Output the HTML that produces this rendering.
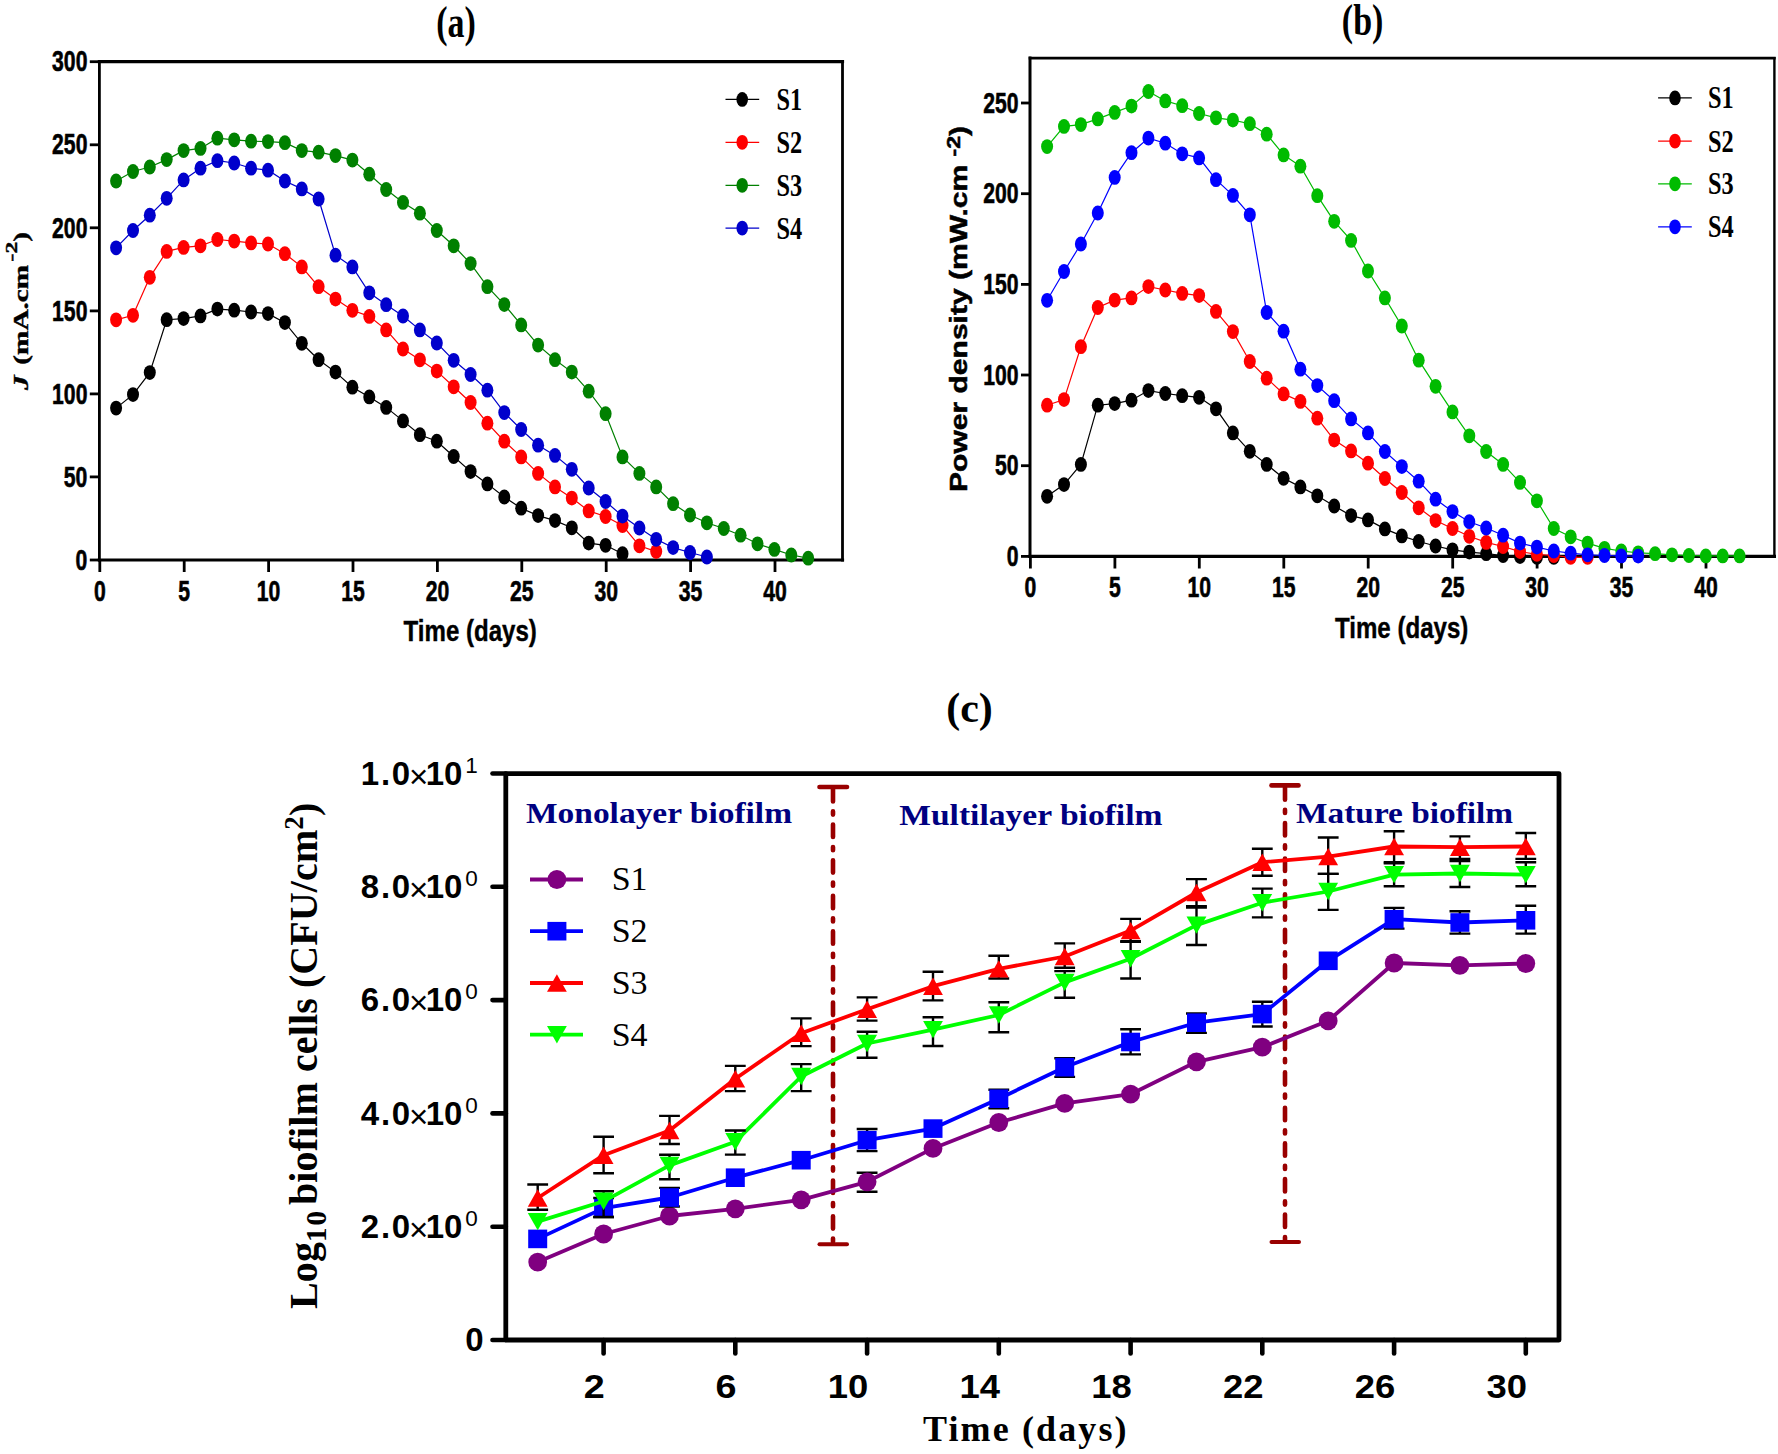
<!DOCTYPE html>
<html lang="en"><head><meta charset="utf-8"><title>Figure</title>
<style>html,body{margin:0;padding:0;background:#fff}svg{display:block}</style>
</head><body>
<svg width="1778" height="1454" viewBox="0 0 1778 1454">
<rect width="1778" height="1454" fill="#ffffff"/>
<g id="panelA">
<g stroke="#000" fill="none" stroke-linecap="square">
<line x1="99.4" y1="61.7" x2="842.5" y2="61.7" stroke-width="3.2"/>
<line x1="99.4" y1="560.0" x2="842.5" y2="560.0" stroke-width="3.2"/>
<line x1="99.4" y1="61.7" x2="99.4" y2="560.0" stroke-width="2.8"/>
<line x1="842.5" y1="61.7" x2="842.5" y2="560.0" stroke-width="2.8"/>
</g>
<g stroke="#000" stroke-width="2.8">
<line x1="89.8" y1="560.0" x2="99.4" y2="560.0"/>
<line x1="89.8" y1="476.9" x2="99.4" y2="476.9"/>
<line x1="89.8" y1="393.9" x2="99.4" y2="393.9"/>
<line x1="89.8" y1="310.9" x2="99.4" y2="310.9"/>
<line x1="89.8" y1="227.8" x2="99.4" y2="227.8"/>
<line x1="89.8" y1="144.8" x2="99.4" y2="144.8"/>
<line x1="89.8" y1="61.7" x2="99.4" y2="61.7"/>
<line x1="99.8" y1="560.0" x2="99.8" y2="572"/>
<line x1="184.2" y1="560.0" x2="184.2" y2="572"/>
<line x1="268.6" y1="560.0" x2="268.6" y2="572"/>
<line x1="353.0" y1="560.0" x2="353.0" y2="572"/>
<line x1="437.4" y1="560.0" x2="437.4" y2="572"/>
<line x1="521.8" y1="560.0" x2="521.8" y2="572"/>
<line x1="606.2" y1="560.0" x2="606.2" y2="572"/>
<line x1="690.6" y1="560.0" x2="690.6" y2="572"/>
<line x1="775.0" y1="560.0" x2="775.0" y2="572"/>
</g>
<text transform="translate(87.4,569.7) scale(0.73,1)" font-family='"Liberation Sans", Arial, sans-serif' font-size="29" font-weight="bold" text-anchor="end" fill="#000" stroke="#000" stroke-width="0.6">0</text>
<text transform="translate(87.4,486.6) scale(0.73,1)" font-family='"Liberation Sans", Arial, sans-serif' font-size="29" font-weight="bold" text-anchor="end" fill="#000" stroke="#000" stroke-width="0.6">50</text>
<text transform="translate(87.4,403.6) scale(0.73,1)" font-family='"Liberation Sans", Arial, sans-serif' font-size="29" font-weight="bold" text-anchor="end" fill="#000" stroke="#000" stroke-width="0.6">100</text>
<text transform="translate(87.4,320.6) scale(0.73,1)" font-family='"Liberation Sans", Arial, sans-serif' font-size="29" font-weight="bold" text-anchor="end" fill="#000" stroke="#000" stroke-width="0.6">150</text>
<text transform="translate(87.4,237.5) scale(0.73,1)" font-family='"Liberation Sans", Arial, sans-serif' font-size="29" font-weight="bold" text-anchor="end" fill="#000" stroke="#000" stroke-width="0.6">200</text>
<text transform="translate(87.4,154.4) scale(0.73,1)" font-family='"Liberation Sans", Arial, sans-serif' font-size="29" font-weight="bold" text-anchor="end" fill="#000" stroke="#000" stroke-width="0.6">250</text>
<text transform="translate(87.4,71.4) scale(0.73,1)" font-family='"Liberation Sans", Arial, sans-serif' font-size="29" font-weight="bold" text-anchor="end" fill="#000" stroke="#000" stroke-width="0.6">300</text>
<text transform="translate(99.8,600.7) scale(0.73,1)" font-family='"Liberation Sans", Arial, sans-serif' font-size="29" font-weight="bold" text-anchor="middle" fill="#000" stroke="#000" stroke-width="0.6">0</text>
<text transform="translate(184.2,600.7) scale(0.73,1)" font-family='"Liberation Sans", Arial, sans-serif' font-size="29" font-weight="bold" text-anchor="middle" fill="#000" stroke="#000" stroke-width="0.6">5</text>
<text transform="translate(268.6,600.7) scale(0.73,1)" font-family='"Liberation Sans", Arial, sans-serif' font-size="29" font-weight="bold" text-anchor="middle" fill="#000" stroke="#000" stroke-width="0.6">10</text>
<text transform="translate(353.0,600.7) scale(0.73,1)" font-family='"Liberation Sans", Arial, sans-serif' font-size="29" font-weight="bold" text-anchor="middle" fill="#000" stroke="#000" stroke-width="0.6">15</text>
<text transform="translate(437.4,600.7) scale(0.73,1)" font-family='"Liberation Sans", Arial, sans-serif' font-size="29" font-weight="bold" text-anchor="middle" fill="#000" stroke="#000" stroke-width="0.6">20</text>
<text transform="translate(521.8,600.7) scale(0.73,1)" font-family='"Liberation Sans", Arial, sans-serif' font-size="29" font-weight="bold" text-anchor="middle" fill="#000" stroke="#000" stroke-width="0.6">25</text>
<text transform="translate(606.2,600.7) scale(0.73,1)" font-family='"Liberation Sans", Arial, sans-serif' font-size="29" font-weight="bold" text-anchor="middle" fill="#000" stroke="#000" stroke-width="0.6">30</text>
<text transform="translate(690.6,600.7) scale(0.73,1)" font-family='"Liberation Sans", Arial, sans-serif' font-size="29" font-weight="bold" text-anchor="middle" fill="#000" stroke="#000" stroke-width="0.6">35</text>
<text transform="translate(775.0,600.7) scale(0.73,1)" font-family='"Liberation Sans", Arial, sans-serif' font-size="29" font-weight="bold" text-anchor="middle" fill="#000" stroke="#000" stroke-width="0.6">40</text>
<text x="403.6" y="640.7" font-family='"Liberation Sans", Arial, sans-serif' font-size="29" font-weight="bold" stroke="#000" stroke-width="0.4" textLength="133.3" lengthAdjust="spacingAndGlyphs">Time (days)</text>
<text transform="translate(28,390) rotate(-90)" font-family='"Liberation Serif", "Times New Roman", serif' font-size="21" font-weight="bold" stroke="#000" stroke-width="0.4" textLength="158" lengthAdjust="spacingAndGlyphs"><tspan font-style="italic">J</tspan><tspan dx="2.5"> (mA.cm</tspan><tspan font-size="17" dy="-11" dx="2.5">-2</tspan><tspan dy="11">)</tspan></text>
<text transform="translate(455.9,36.6) scale(0.78,1)" font-family='"Liberation Serif", "Times New Roman", serif' font-size="43.5" font-weight="bold" text-anchor="middle" fill="#000" >(a)</text>
<polyline points="116.1,408.1 133.0,394.6 149.8,372.6 166.7,319.7 183.6,318.6 200.5,315.9 217.4,309.1 234.2,310.2 251.1,312.0 268.0,313.6 284.9,322.6 301.8,343.3 318.6,359.7 335.5,372.1 352.4,387.2 369.3,396.9 386.2,407.4 403.0,420.9 419.9,434.7 436.8,441.2 453.7,456.5 470.6,471.6 487.4,483.9 504.3,497.0 521.2,508.2 538.1,515.6 555.0,520.6 571.8,527.8 588.7,543.1 605.6,545.3 622.5,553.7" fill="none" stroke="#000000" stroke-width="1.2"/>
<g fill="#000000">
<ellipse cx="116.1" cy="408.1" rx="6.0" ry="7.4"/>
<ellipse cx="133.0" cy="394.6" rx="6.0" ry="7.4"/>
<ellipse cx="149.8" cy="372.6" rx="6.0" ry="7.4"/>
<ellipse cx="166.7" cy="319.7" rx="6.0" ry="7.4"/>
<ellipse cx="183.6" cy="318.6" rx="6.0" ry="7.4"/>
<ellipse cx="200.5" cy="315.9" rx="6.0" ry="7.4"/>
<ellipse cx="217.4" cy="309.1" rx="6.0" ry="7.4"/>
<ellipse cx="234.2" cy="310.2" rx="6.0" ry="7.4"/>
<ellipse cx="251.1" cy="312.0" rx="6.0" ry="7.4"/>
<ellipse cx="268.0" cy="313.6" rx="6.0" ry="7.4"/>
<ellipse cx="284.9" cy="322.6" rx="6.0" ry="7.4"/>
<ellipse cx="301.8" cy="343.3" rx="6.0" ry="7.4"/>
<ellipse cx="318.6" cy="359.7" rx="6.0" ry="7.4"/>
<ellipse cx="335.5" cy="372.1" rx="6.0" ry="7.4"/>
<ellipse cx="352.4" cy="387.2" rx="6.0" ry="7.4"/>
<ellipse cx="369.3" cy="396.9" rx="6.0" ry="7.4"/>
<ellipse cx="386.2" cy="407.4" rx="6.0" ry="7.4"/>
<ellipse cx="403.0" cy="420.9" rx="6.0" ry="7.4"/>
<ellipse cx="419.9" cy="434.7" rx="6.0" ry="7.4"/>
<ellipse cx="436.8" cy="441.2" rx="6.0" ry="7.4"/>
<ellipse cx="453.7" cy="456.5" rx="6.0" ry="7.4"/>
<ellipse cx="470.6" cy="471.6" rx="6.0" ry="7.4"/>
<ellipse cx="487.4" cy="483.9" rx="6.0" ry="7.4"/>
<ellipse cx="504.3" cy="497.0" rx="6.0" ry="7.4"/>
<ellipse cx="521.2" cy="508.2" rx="6.0" ry="7.4"/>
<ellipse cx="538.1" cy="515.6" rx="6.0" ry="7.4"/>
<ellipse cx="555.0" cy="520.6" rx="6.0" ry="7.4"/>
<ellipse cx="571.8" cy="527.8" rx="6.0" ry="7.4"/>
<ellipse cx="588.7" cy="543.1" rx="6.0" ry="7.4"/>
<ellipse cx="605.6" cy="545.3" rx="6.0" ry="7.4"/>
<ellipse cx="622.5" cy="553.7" rx="6.0" ry="7.4"/>
</g>
<polyline points="116.1,319.8 133.0,315.3 149.8,277.3 166.7,251.4 183.6,247.4 200.5,245.8 217.4,239.5 234.2,241.1 251.1,242.9 268.0,244.0 284.9,253.7 301.8,266.9 318.6,286.7 335.5,299.1 352.4,310.3 369.3,316.4 386.2,329.9 403.0,349.0 419.9,359.8 436.8,371.1 453.7,386.8 470.6,402.5 487.4,423.2 504.3,441.2 521.2,456.9 538.1,473.4 555.0,486.9 571.8,498.1 588.7,510.9 605.6,516.5 622.5,525.5 639.4,545.8 656.2,551.6" fill="none" stroke="#ff0000" stroke-width="1.2"/>
<g fill="#ff0000">
<ellipse cx="116.1" cy="319.8" rx="6.0" ry="7.4"/>
<ellipse cx="133.0" cy="315.3" rx="6.0" ry="7.4"/>
<ellipse cx="149.8" cy="277.3" rx="6.0" ry="7.4"/>
<ellipse cx="166.7" cy="251.4" rx="6.0" ry="7.4"/>
<ellipse cx="183.6" cy="247.4" rx="6.0" ry="7.4"/>
<ellipse cx="200.5" cy="245.8" rx="6.0" ry="7.4"/>
<ellipse cx="217.4" cy="239.5" rx="6.0" ry="7.4"/>
<ellipse cx="234.2" cy="241.1" rx="6.0" ry="7.4"/>
<ellipse cx="251.1" cy="242.9" rx="6.0" ry="7.4"/>
<ellipse cx="268.0" cy="244.0" rx="6.0" ry="7.4"/>
<ellipse cx="284.9" cy="253.7" rx="6.0" ry="7.4"/>
<ellipse cx="301.8" cy="266.9" rx="6.0" ry="7.4"/>
<ellipse cx="318.6" cy="286.7" rx="6.0" ry="7.4"/>
<ellipse cx="335.5" cy="299.1" rx="6.0" ry="7.4"/>
<ellipse cx="352.4" cy="310.3" rx="6.0" ry="7.4"/>
<ellipse cx="369.3" cy="316.4" rx="6.0" ry="7.4"/>
<ellipse cx="386.2" cy="329.9" rx="6.0" ry="7.4"/>
<ellipse cx="403.0" cy="349.0" rx="6.0" ry="7.4"/>
<ellipse cx="419.9" cy="359.8" rx="6.0" ry="7.4"/>
<ellipse cx="436.8" cy="371.1" rx="6.0" ry="7.4"/>
<ellipse cx="453.7" cy="386.8" rx="6.0" ry="7.4"/>
<ellipse cx="470.6" cy="402.5" rx="6.0" ry="7.4"/>
<ellipse cx="487.4" cy="423.2" rx="6.0" ry="7.4"/>
<ellipse cx="504.3" cy="441.2" rx="6.0" ry="7.4"/>
<ellipse cx="521.2" cy="456.9" rx="6.0" ry="7.4"/>
<ellipse cx="538.1" cy="473.4" rx="6.0" ry="7.4"/>
<ellipse cx="555.0" cy="486.9" rx="6.0" ry="7.4"/>
<ellipse cx="571.8" cy="498.1" rx="6.0" ry="7.4"/>
<ellipse cx="588.7" cy="510.9" rx="6.0" ry="7.4"/>
<ellipse cx="605.6" cy="516.5" rx="6.0" ry="7.4"/>
<ellipse cx="622.5" cy="525.5" rx="6.0" ry="7.4"/>
<ellipse cx="639.4" cy="545.8" rx="6.0" ry="7.4"/>
<ellipse cx="656.2" cy="551.6" rx="6.0" ry="7.4"/>
</g>
<polyline points="116.1,181.0 133.0,171.5 149.8,167.0 166.7,159.6 183.6,150.6 200.5,148.4 217.4,138.2 234.2,139.8 251.1,141.2 268.0,141.6 284.9,142.7 301.8,150.6 318.6,152.2 335.5,155.6 352.4,160.1 369.3,174.2 386.2,189.5 403.0,202.4 419.9,213.2 436.8,230.5 453.7,245.8 470.6,263.6 487.4,286.7 504.3,304.6 521.2,324.9 538.1,345.1 555.0,359.7 571.8,372.1 588.7,391.2 605.6,413.7 622.5,456.9 639.4,473.4 656.2,486.9 673.1,503.7 690.0,515.0 706.9,522.8 723.8,528.5 740.6,535.2 757.5,543.8 774.4,549.4 791.3,555.0 808.2,558.2" fill="none" stroke="#008000" stroke-width="1.2"/>
<g fill="#008000">
<ellipse cx="116.1" cy="181.0" rx="6.0" ry="7.4"/>
<ellipse cx="133.0" cy="171.5" rx="6.0" ry="7.4"/>
<ellipse cx="149.8" cy="167.0" rx="6.0" ry="7.4"/>
<ellipse cx="166.7" cy="159.6" rx="6.0" ry="7.4"/>
<ellipse cx="183.6" cy="150.6" rx="6.0" ry="7.4"/>
<ellipse cx="200.5" cy="148.4" rx="6.0" ry="7.4"/>
<ellipse cx="217.4" cy="138.2" rx="6.0" ry="7.4"/>
<ellipse cx="234.2" cy="139.8" rx="6.0" ry="7.4"/>
<ellipse cx="251.1" cy="141.2" rx="6.0" ry="7.4"/>
<ellipse cx="268.0" cy="141.6" rx="6.0" ry="7.4"/>
<ellipse cx="284.9" cy="142.7" rx="6.0" ry="7.4"/>
<ellipse cx="301.8" cy="150.6" rx="6.0" ry="7.4"/>
<ellipse cx="318.6" cy="152.2" rx="6.0" ry="7.4"/>
<ellipse cx="335.5" cy="155.6" rx="6.0" ry="7.4"/>
<ellipse cx="352.4" cy="160.1" rx="6.0" ry="7.4"/>
<ellipse cx="369.3" cy="174.2" rx="6.0" ry="7.4"/>
<ellipse cx="386.2" cy="189.5" rx="6.0" ry="7.4"/>
<ellipse cx="403.0" cy="202.4" rx="6.0" ry="7.4"/>
<ellipse cx="419.9" cy="213.2" rx="6.0" ry="7.4"/>
<ellipse cx="436.8" cy="230.5" rx="6.0" ry="7.4"/>
<ellipse cx="453.7" cy="245.8" rx="6.0" ry="7.4"/>
<ellipse cx="470.6" cy="263.6" rx="6.0" ry="7.4"/>
<ellipse cx="487.4" cy="286.7" rx="6.0" ry="7.4"/>
<ellipse cx="504.3" cy="304.6" rx="6.0" ry="7.4"/>
<ellipse cx="521.2" cy="324.9" rx="6.0" ry="7.4"/>
<ellipse cx="538.1" cy="345.1" rx="6.0" ry="7.4"/>
<ellipse cx="555.0" cy="359.7" rx="6.0" ry="7.4"/>
<ellipse cx="571.8" cy="372.1" rx="6.0" ry="7.4"/>
<ellipse cx="588.7" cy="391.2" rx="6.0" ry="7.4"/>
<ellipse cx="605.6" cy="413.7" rx="6.0" ry="7.4"/>
<ellipse cx="622.5" cy="456.9" rx="6.0" ry="7.4"/>
<ellipse cx="639.4" cy="473.4" rx="6.0" ry="7.4"/>
<ellipse cx="656.2" cy="486.9" rx="6.0" ry="7.4"/>
<ellipse cx="673.1" cy="503.7" rx="6.0" ry="7.4"/>
<ellipse cx="690.0" cy="515.0" rx="6.0" ry="7.4"/>
<ellipse cx="706.9" cy="522.8" rx="6.0" ry="7.4"/>
<ellipse cx="723.8" cy="528.5" rx="6.0" ry="7.4"/>
<ellipse cx="740.6" cy="535.2" rx="6.0" ry="7.4"/>
<ellipse cx="757.5" cy="543.8" rx="6.0" ry="7.4"/>
<ellipse cx="774.4" cy="549.4" rx="6.0" ry="7.4"/>
<ellipse cx="791.3" cy="555.0" rx="6.0" ry="7.4"/>
<ellipse cx="808.2" cy="558.2" rx="6.0" ry="7.4"/>
</g>
<polyline points="116.1,247.8 133.0,230.5 149.8,215.2 166.7,198.3 183.6,179.9 200.5,168.2 217.4,160.7 234.2,163.0 251.1,168.2 268.0,170.2 284.9,181.0 301.8,188.9 318.6,199.0 335.5,255.2 352.4,266.9 369.3,292.8 386.2,304.7 403.0,316.0 419.9,329.9 436.8,343.0 453.7,360.3 470.6,374.5 487.4,390.2 504.3,412.6 521.2,429.5 538.1,445.2 555.0,455.4 571.8,469.3 588.7,488.0 605.6,501.5 622.5,516.1 639.4,528.0 656.2,539.3 673.1,547.6 690.0,552.5 706.9,557.0" fill="none" stroke="#0000cc" stroke-width="1.2"/>
<g fill="#0000cc">
<ellipse cx="116.1" cy="247.8" rx="6.0" ry="7.4"/>
<ellipse cx="133.0" cy="230.5" rx="6.0" ry="7.4"/>
<ellipse cx="149.8" cy="215.2" rx="6.0" ry="7.4"/>
<ellipse cx="166.7" cy="198.3" rx="6.0" ry="7.4"/>
<ellipse cx="183.6" cy="179.9" rx="6.0" ry="7.4"/>
<ellipse cx="200.5" cy="168.2" rx="6.0" ry="7.4"/>
<ellipse cx="217.4" cy="160.7" rx="6.0" ry="7.4"/>
<ellipse cx="234.2" cy="163.0" rx="6.0" ry="7.4"/>
<ellipse cx="251.1" cy="168.2" rx="6.0" ry="7.4"/>
<ellipse cx="268.0" cy="170.2" rx="6.0" ry="7.4"/>
<ellipse cx="284.9" cy="181.0" rx="6.0" ry="7.4"/>
<ellipse cx="301.8" cy="188.9" rx="6.0" ry="7.4"/>
<ellipse cx="318.6" cy="199.0" rx="6.0" ry="7.4"/>
<ellipse cx="335.5" cy="255.2" rx="6.0" ry="7.4"/>
<ellipse cx="352.4" cy="266.9" rx="6.0" ry="7.4"/>
<ellipse cx="369.3" cy="292.8" rx="6.0" ry="7.4"/>
<ellipse cx="386.2" cy="304.7" rx="6.0" ry="7.4"/>
<ellipse cx="403.0" cy="316.0" rx="6.0" ry="7.4"/>
<ellipse cx="419.9" cy="329.9" rx="6.0" ry="7.4"/>
<ellipse cx="436.8" cy="343.0" rx="6.0" ry="7.4"/>
<ellipse cx="453.7" cy="360.3" rx="6.0" ry="7.4"/>
<ellipse cx="470.6" cy="374.5" rx="6.0" ry="7.4"/>
<ellipse cx="487.4" cy="390.2" rx="6.0" ry="7.4"/>
<ellipse cx="504.3" cy="412.6" rx="6.0" ry="7.4"/>
<ellipse cx="521.2" cy="429.5" rx="6.0" ry="7.4"/>
<ellipse cx="538.1" cy="445.2" rx="6.0" ry="7.4"/>
<ellipse cx="555.0" cy="455.4" rx="6.0" ry="7.4"/>
<ellipse cx="571.8" cy="469.3" rx="6.0" ry="7.4"/>
<ellipse cx="588.7" cy="488.0" rx="6.0" ry="7.4"/>
<ellipse cx="605.6" cy="501.5" rx="6.0" ry="7.4"/>
<ellipse cx="622.5" cy="516.1" rx="6.0" ry="7.4"/>
<ellipse cx="639.4" cy="528.0" rx="6.0" ry="7.4"/>
<ellipse cx="656.2" cy="539.3" rx="6.0" ry="7.4"/>
<ellipse cx="673.1" cy="547.6" rx="6.0" ry="7.4"/>
<ellipse cx="690.0" cy="552.5" rx="6.0" ry="7.4"/>
<ellipse cx="706.9" cy="557.0" rx="6.0" ry="7.4"/>
</g>
<line x1="725.5" y1="99.4" x2="759.2" y2="99.4" stroke="#000000" stroke-width="1.35"/>
<ellipse cx="742.2" cy="99.4" rx="5.8" ry="7.4" fill="#000000"/>
<text transform="translate(776.6,109.9) scale(0.76,1)" font-family='"Liberation Serif", "Times New Roman", serif' font-size="32" font-weight="bold" text-anchor="start" fill="#000" >S1</text>
<line x1="725.5" y1="142.3" x2="759.2" y2="142.3" stroke="#ff0000" stroke-width="1.35"/>
<ellipse cx="742.2" cy="142.3" rx="5.8" ry="7.4" fill="#ff0000"/>
<text transform="translate(776.6,152.8) scale(0.76,1)" font-family='"Liberation Serif", "Times New Roman", serif' font-size="32" font-weight="bold" text-anchor="start" fill="#000" >S2</text>
<line x1="725.5" y1="185.3" x2="759.2" y2="185.3" stroke="#008000" stroke-width="1.35"/>
<ellipse cx="742.2" cy="185.3" rx="5.8" ry="7.4" fill="#008000"/>
<text transform="translate(776.6,195.8) scale(0.76,1)" font-family='"Liberation Serif", "Times New Roman", serif' font-size="32" font-weight="bold" text-anchor="start" fill="#000" >S3</text>
<line x1="725.5" y1="228.1" x2="759.2" y2="228.1" stroke="#0000cc" stroke-width="1.35"/>
<ellipse cx="742.2" cy="228.1" rx="5.8" ry="7.4" fill="#0000cc"/>
<text transform="translate(776.6,238.6) scale(0.76,1)" font-family='"Liberation Serif", "Times New Roman", serif' font-size="32" font-weight="bold" text-anchor="start" fill="#000" >S4</text>
</g>
<g id="panelB">
<g stroke="#000" fill="none" stroke-linecap="square">
<line x1="1030.0" y1="58.1" x2="1774.4" y2="58.1" stroke-width="2.6"/>
<line x1="1030.0" y1="556.4" x2="1774.4" y2="556.4" stroke-width="3.2"/>
<line x1="1030.0" y1="58.1" x2="1030.0" y2="556.4" stroke-width="3.0"/>
<line x1="1774.4" y1="58.1" x2="1774.4" y2="556.4" stroke-width="2.4"/>
</g>
<g stroke="#000" stroke-width="2.8">
<line x1="1021" y1="556.4" x2="1030.0" y2="556.4"/>
<line x1="1021" y1="465.7" x2="1030.0" y2="465.7"/>
<line x1="1021" y1="375.0" x2="1030.0" y2="375.0"/>
<line x1="1021" y1="284.4" x2="1030.0" y2="284.4"/>
<line x1="1021" y1="193.7" x2="1030.0" y2="193.7"/>
<line x1="1021" y1="103.0" x2="1030.0" y2="103.0"/>
<line x1="1030.4" y1="556.4" x2="1030.4" y2="568.5"/>
<line x1="1114.9" y1="556.4" x2="1114.9" y2="568.5"/>
<line x1="1199.3" y1="556.4" x2="1199.3" y2="568.5"/>
<line x1="1283.8" y1="556.4" x2="1283.8" y2="568.5"/>
<line x1="1368.2" y1="556.4" x2="1368.2" y2="568.5"/>
<line x1="1452.7" y1="556.4" x2="1452.7" y2="568.5"/>
<line x1="1537.1" y1="556.4" x2="1537.1" y2="568.5"/>
<line x1="1621.5" y1="556.4" x2="1621.5" y2="568.5"/>
<line x1="1706.0" y1="556.4" x2="1706.0" y2="568.5"/>
</g>
<text transform="translate(1018.5,566.1) scale(0.73,1)" font-family='"Liberation Sans", Arial, sans-serif' font-size="29" font-weight="bold" text-anchor="end" fill="#000" stroke="#000" stroke-width="0.6">0</text>
<text transform="translate(1018.5,475.4) scale(0.73,1)" font-family='"Liberation Sans", Arial, sans-serif' font-size="29" font-weight="bold" text-anchor="end" fill="#000" stroke="#000" stroke-width="0.6">50</text>
<text transform="translate(1018.5,384.7) scale(0.73,1)" font-family='"Liberation Sans", Arial, sans-serif' font-size="29" font-weight="bold" text-anchor="end" fill="#000" stroke="#000" stroke-width="0.6">100</text>
<text transform="translate(1018.5,294.1) scale(0.73,1)" font-family='"Liberation Sans", Arial, sans-serif' font-size="29" font-weight="bold" text-anchor="end" fill="#000" stroke="#000" stroke-width="0.6">150</text>
<text transform="translate(1018.5,203.4) scale(0.73,1)" font-family='"Liberation Sans", Arial, sans-serif' font-size="29" font-weight="bold" text-anchor="end" fill="#000" stroke="#000" stroke-width="0.6">200</text>
<text transform="translate(1018.5,112.7) scale(0.73,1)" font-family='"Liberation Sans", Arial, sans-serif' font-size="29" font-weight="bold" text-anchor="end" fill="#000" stroke="#000" stroke-width="0.6">250</text>
<text transform="translate(1030.4,597) scale(0.73,1)" font-family='"Liberation Sans", Arial, sans-serif' font-size="29" font-weight="bold" text-anchor="middle" fill="#000" stroke="#000" stroke-width="0.6">0</text>
<text transform="translate(1114.9,597) scale(0.73,1)" font-family='"Liberation Sans", Arial, sans-serif' font-size="29" font-weight="bold" text-anchor="middle" fill="#000" stroke="#000" stroke-width="0.6">5</text>
<text transform="translate(1199.3,597) scale(0.73,1)" font-family='"Liberation Sans", Arial, sans-serif' font-size="29" font-weight="bold" text-anchor="middle" fill="#000" stroke="#000" stroke-width="0.6">10</text>
<text transform="translate(1283.8,597) scale(0.73,1)" font-family='"Liberation Sans", Arial, sans-serif' font-size="29" font-weight="bold" text-anchor="middle" fill="#000" stroke="#000" stroke-width="0.6">15</text>
<text transform="translate(1368.2,597) scale(0.73,1)" font-family='"Liberation Sans", Arial, sans-serif' font-size="29" font-weight="bold" text-anchor="middle" fill="#000" stroke="#000" stroke-width="0.6">20</text>
<text transform="translate(1452.7,597) scale(0.73,1)" font-family='"Liberation Sans", Arial, sans-serif' font-size="29" font-weight="bold" text-anchor="middle" fill="#000" stroke="#000" stroke-width="0.6">25</text>
<text transform="translate(1537.1,597) scale(0.73,1)" font-family='"Liberation Sans", Arial, sans-serif' font-size="29" font-weight="bold" text-anchor="middle" fill="#000" stroke="#000" stroke-width="0.6">30</text>
<text transform="translate(1621.5,597) scale(0.73,1)" font-family='"Liberation Sans", Arial, sans-serif' font-size="29" font-weight="bold" text-anchor="middle" fill="#000" stroke="#000" stroke-width="0.6">35</text>
<text transform="translate(1706.0,597) scale(0.73,1)" font-family='"Liberation Sans", Arial, sans-serif' font-size="29" font-weight="bold" text-anchor="middle" fill="#000" stroke="#000" stroke-width="0.6">40</text>
<text x="1335" y="638.3" font-family='"Liberation Sans", Arial, sans-serif' font-size="29" font-weight="bold" stroke="#000" stroke-width="0.4" textLength="133.3" lengthAdjust="spacingAndGlyphs">Time (days)</text>
<text transform="translate(966.8,492) rotate(-90)" font-family='"Liberation Sans", Arial, sans-serif' font-size="24.8" font-weight="bold" stroke="#000" stroke-width="0.5" textLength="366" lengthAdjust="spacingAndGlyphs">Power density (mW.cm <tspan font-size="19" dy="-7">-2</tspan><tspan dy="7">)</tspan></text>
<text transform="translate(1362.6,34.8) scale(0.78,1)" font-family='"Liberation Serif", "Times New Roman", serif' font-size="43.5" font-weight="bold" text-anchor="middle" fill="#000" >(b)</text>
<polyline points="1047.1,496.3 1064.0,484.6 1080.9,464.4 1097.8,405.2 1114.7,403.6 1131.5,400.2 1148.4,390.6 1165.3,393.5 1182.2,395.7 1199.1,397.3 1216.0,408.8 1232.9,432.9 1249.8,451.3 1266.7,464.4 1283.6,478.3 1300.4,486.9 1317.3,495.8 1334.2,506.0 1351.1,515.6 1368.0,519.9 1384.9,528.9 1401.8,535.9 1418.7,541.5 1435.6,546.0 1452.5,549.8 1469.3,552.1 1486.2,553.7 1503.1,555.5 1520.0,556.6 1536.9,557.3 1553.8,557.3" fill="none" stroke="#000000" stroke-width="1.2"/>
<g fill="#000000">
<ellipse cx="1047.1" cy="496.3" rx="6.0" ry="7.4"/>
<ellipse cx="1064.0" cy="484.6" rx="6.0" ry="7.4"/>
<ellipse cx="1080.9" cy="464.4" rx="6.0" ry="7.4"/>
<ellipse cx="1097.8" cy="405.2" rx="6.0" ry="7.4"/>
<ellipse cx="1114.7" cy="403.6" rx="6.0" ry="7.4"/>
<ellipse cx="1131.5" cy="400.2" rx="6.0" ry="7.4"/>
<ellipse cx="1148.4" cy="390.6" rx="6.0" ry="7.4"/>
<ellipse cx="1165.3" cy="393.5" rx="6.0" ry="7.4"/>
<ellipse cx="1182.2" cy="395.7" rx="6.0" ry="7.4"/>
<ellipse cx="1199.1" cy="397.3" rx="6.0" ry="7.4"/>
<ellipse cx="1216.0" cy="408.8" rx="6.0" ry="7.4"/>
<ellipse cx="1232.9" cy="432.9" rx="6.0" ry="7.4"/>
<ellipse cx="1249.8" cy="451.3" rx="6.0" ry="7.4"/>
<ellipse cx="1266.7" cy="464.4" rx="6.0" ry="7.4"/>
<ellipse cx="1283.6" cy="478.3" rx="6.0" ry="7.4"/>
<ellipse cx="1300.4" cy="486.9" rx="6.0" ry="7.4"/>
<ellipse cx="1317.3" cy="495.8" rx="6.0" ry="7.4"/>
<ellipse cx="1334.2" cy="506.0" rx="6.0" ry="7.4"/>
<ellipse cx="1351.1" cy="515.6" rx="6.0" ry="7.4"/>
<ellipse cx="1368.0" cy="519.9" rx="6.0" ry="7.4"/>
<ellipse cx="1384.9" cy="528.9" rx="6.0" ry="7.4"/>
<ellipse cx="1401.8" cy="535.9" rx="6.0" ry="7.4"/>
<ellipse cx="1418.7" cy="541.5" rx="6.0" ry="7.4"/>
<ellipse cx="1435.6" cy="546.0" rx="6.0" ry="7.4"/>
<ellipse cx="1452.5" cy="549.8" rx="6.0" ry="7.4"/>
<ellipse cx="1469.3" cy="552.1" rx="6.0" ry="7.4"/>
<ellipse cx="1486.2" cy="553.7" rx="6.0" ry="7.4"/>
<ellipse cx="1503.1" cy="555.5" rx="6.0" ry="7.4"/>
<ellipse cx="1520.0" cy="556.6" rx="6.0" ry="7.4"/>
<ellipse cx="1536.9" cy="557.3" rx="6.0" ry="7.4"/>
<ellipse cx="1553.8" cy="557.3" rx="6.0" ry="7.4"/>
</g>
<polyline points="1047.1,405.2 1064.0,399.6 1080.9,346.7 1097.8,307.5 1114.7,300.1 1131.5,297.9 1148.4,286.6 1165.3,290.0 1182.2,293.4 1199.1,295.6 1216.0,311.4 1232.9,331.6 1249.8,361.5 1266.7,378.2 1283.6,393.9 1300.4,401.4 1317.3,418.2 1334.2,440.1 1351.1,450.9 1368.0,463.2 1384.9,478.5 1401.8,492.5 1418.7,507.8 1435.6,520.6 1452.5,528.5 1469.3,536.3 1486.2,542.4 1503.1,546.5 1520.0,551.6 1536.9,554.3 1553.8,555.5 1570.7,557.3 1587.6,557.3" fill="none" stroke="#ff0000" stroke-width="1.2"/>
<g fill="#ff0000">
<ellipse cx="1047.1" cy="405.2" rx="6.0" ry="7.4"/>
<ellipse cx="1064.0" cy="399.6" rx="6.0" ry="7.4"/>
<ellipse cx="1080.9" cy="346.7" rx="6.0" ry="7.4"/>
<ellipse cx="1097.8" cy="307.5" rx="6.0" ry="7.4"/>
<ellipse cx="1114.7" cy="300.1" rx="6.0" ry="7.4"/>
<ellipse cx="1131.5" cy="297.9" rx="6.0" ry="7.4"/>
<ellipse cx="1148.4" cy="286.6" rx="6.0" ry="7.4"/>
<ellipse cx="1165.3" cy="290.0" rx="6.0" ry="7.4"/>
<ellipse cx="1182.2" cy="293.4" rx="6.0" ry="7.4"/>
<ellipse cx="1199.1" cy="295.6" rx="6.0" ry="7.4"/>
<ellipse cx="1216.0" cy="311.4" rx="6.0" ry="7.4"/>
<ellipse cx="1232.9" cy="331.6" rx="6.0" ry="7.4"/>
<ellipse cx="1249.8" cy="361.5" rx="6.0" ry="7.4"/>
<ellipse cx="1266.7" cy="378.2" rx="6.0" ry="7.4"/>
<ellipse cx="1283.6" cy="393.9" rx="6.0" ry="7.4"/>
<ellipse cx="1300.4" cy="401.4" rx="6.0" ry="7.4"/>
<ellipse cx="1317.3" cy="418.2" rx="6.0" ry="7.4"/>
<ellipse cx="1334.2" cy="440.1" rx="6.0" ry="7.4"/>
<ellipse cx="1351.1" cy="450.9" rx="6.0" ry="7.4"/>
<ellipse cx="1368.0" cy="463.2" rx="6.0" ry="7.4"/>
<ellipse cx="1384.9" cy="478.5" rx="6.0" ry="7.4"/>
<ellipse cx="1401.8" cy="492.5" rx="6.0" ry="7.4"/>
<ellipse cx="1418.7" cy="507.8" rx="6.0" ry="7.4"/>
<ellipse cx="1435.6" cy="520.6" rx="6.0" ry="7.4"/>
<ellipse cx="1452.5" cy="528.5" rx="6.0" ry="7.4"/>
<ellipse cx="1469.3" cy="536.3" rx="6.0" ry="7.4"/>
<ellipse cx="1486.2" cy="542.4" rx="6.0" ry="7.4"/>
<ellipse cx="1503.1" cy="546.5" rx="6.0" ry="7.4"/>
<ellipse cx="1520.0" cy="551.6" rx="6.0" ry="7.4"/>
<ellipse cx="1536.9" cy="554.3" rx="6.0" ry="7.4"/>
<ellipse cx="1553.8" cy="555.5" rx="6.0" ry="7.4"/>
<ellipse cx="1570.7" cy="557.3" rx="6.0" ry="7.4"/>
<ellipse cx="1587.6" cy="557.3" rx="6.0" ry="7.4"/>
</g>
<polyline points="1047.1,146.6 1064.0,126.4 1080.9,124.6 1097.8,118.9 1114.7,112.4 1131.5,106.1 1148.4,91.5 1165.3,100.9 1182.2,105.7 1199.1,113.5 1216.0,117.8 1232.9,120.1 1249.8,123.7 1266.7,134.2 1283.6,154.9 1300.4,166.2 1317.3,195.7 1334.2,221.3 1351.1,240.4 1368.0,271.0 1384.9,297.9 1401.8,326.0 1418.7,360.2 1435.6,386.3 1452.5,411.9 1469.3,435.8 1486.2,451.5 1503.1,464.4 1520.0,482.4 1536.9,500.8 1553.8,528.5 1570.7,536.8 1587.6,543.1 1604.5,548.3 1621.3,551.0 1638.2,552.8 1655.1,553.7 1672.0,554.8 1688.9,555.5 1705.8,555.9 1722.7,555.9 1739.6,555.9" fill="none" stroke="#00bb00" stroke-width="1.2"/>
<g fill="#00bb00">
<ellipse cx="1047.1" cy="146.6" rx="6.0" ry="7.4"/>
<ellipse cx="1064.0" cy="126.4" rx="6.0" ry="7.4"/>
<ellipse cx="1080.9" cy="124.6" rx="6.0" ry="7.4"/>
<ellipse cx="1097.8" cy="118.9" rx="6.0" ry="7.4"/>
<ellipse cx="1114.7" cy="112.4" rx="6.0" ry="7.4"/>
<ellipse cx="1131.5" cy="106.1" rx="6.0" ry="7.4"/>
<ellipse cx="1148.4" cy="91.5" rx="6.0" ry="7.4"/>
<ellipse cx="1165.3" cy="100.9" rx="6.0" ry="7.4"/>
<ellipse cx="1182.2" cy="105.7" rx="6.0" ry="7.4"/>
<ellipse cx="1199.1" cy="113.5" rx="6.0" ry="7.4"/>
<ellipse cx="1216.0" cy="117.8" rx="6.0" ry="7.4"/>
<ellipse cx="1232.9" cy="120.1" rx="6.0" ry="7.4"/>
<ellipse cx="1249.8" cy="123.7" rx="6.0" ry="7.4"/>
<ellipse cx="1266.7" cy="134.2" rx="6.0" ry="7.4"/>
<ellipse cx="1283.6" cy="154.9" rx="6.0" ry="7.4"/>
<ellipse cx="1300.4" cy="166.2" rx="6.0" ry="7.4"/>
<ellipse cx="1317.3" cy="195.7" rx="6.0" ry="7.4"/>
<ellipse cx="1334.2" cy="221.3" rx="6.0" ry="7.4"/>
<ellipse cx="1351.1" cy="240.4" rx="6.0" ry="7.4"/>
<ellipse cx="1368.0" cy="271.0" rx="6.0" ry="7.4"/>
<ellipse cx="1384.9" cy="297.9" rx="6.0" ry="7.4"/>
<ellipse cx="1401.8" cy="326.0" rx="6.0" ry="7.4"/>
<ellipse cx="1418.7" cy="360.2" rx="6.0" ry="7.4"/>
<ellipse cx="1435.6" cy="386.3" rx="6.0" ry="7.4"/>
<ellipse cx="1452.5" cy="411.9" rx="6.0" ry="7.4"/>
<ellipse cx="1469.3" cy="435.8" rx="6.0" ry="7.4"/>
<ellipse cx="1486.2" cy="451.5" rx="6.0" ry="7.4"/>
<ellipse cx="1503.1" cy="464.4" rx="6.0" ry="7.4"/>
<ellipse cx="1520.0" cy="482.4" rx="6.0" ry="7.4"/>
<ellipse cx="1536.9" cy="500.8" rx="6.0" ry="7.4"/>
<ellipse cx="1553.8" cy="528.5" rx="6.0" ry="7.4"/>
<ellipse cx="1570.7" cy="536.8" rx="6.0" ry="7.4"/>
<ellipse cx="1587.6" cy="543.1" rx="6.0" ry="7.4"/>
<ellipse cx="1604.5" cy="548.3" rx="6.0" ry="7.4"/>
<ellipse cx="1621.3" cy="551.0" rx="6.0" ry="7.4"/>
<ellipse cx="1638.2" cy="552.8" rx="6.0" ry="7.4"/>
<ellipse cx="1655.1" cy="553.7" rx="6.0" ry="7.4"/>
<ellipse cx="1672.0" cy="554.8" rx="6.0" ry="7.4"/>
<ellipse cx="1688.9" cy="555.5" rx="6.0" ry="7.4"/>
<ellipse cx="1705.8" cy="555.9" rx="6.0" ry="7.4"/>
<ellipse cx="1722.7" cy="555.9" rx="6.0" ry="7.4"/>
<ellipse cx="1739.6" cy="555.9" rx="6.0" ry="7.4"/>
</g>
<polyline points="1047.1,300.3 1064.0,271.5 1080.9,244.0 1097.8,213.0 1114.7,177.4 1131.5,152.7 1148.4,138.1 1165.3,143.2 1182.2,153.8 1199.1,157.9 1216.0,179.7 1232.9,195.4 1249.8,214.8 1266.7,312.5 1283.6,331.2 1300.4,369.2 1317.3,385.6 1334.2,400.7 1351.1,418.9 1368.0,432.9 1384.9,451.5 1401.8,466.6 1418.7,481.2 1435.6,499.2 1452.5,511.6 1469.3,521.7 1486.2,528.0 1503.1,535.2 1520.0,543.1 1536.9,547.1 1553.8,551.0 1570.7,553.2 1587.6,554.8 1604.5,555.5 1621.3,555.9 1638.2,556.1" fill="none" stroke="#0000ff" stroke-width="1.2"/>
<g fill="#0000ff">
<ellipse cx="1047.1" cy="300.3" rx="6.0" ry="7.4"/>
<ellipse cx="1064.0" cy="271.5" rx="6.0" ry="7.4"/>
<ellipse cx="1080.9" cy="244.0" rx="6.0" ry="7.4"/>
<ellipse cx="1097.8" cy="213.0" rx="6.0" ry="7.4"/>
<ellipse cx="1114.7" cy="177.4" rx="6.0" ry="7.4"/>
<ellipse cx="1131.5" cy="152.7" rx="6.0" ry="7.4"/>
<ellipse cx="1148.4" cy="138.1" rx="6.0" ry="7.4"/>
<ellipse cx="1165.3" cy="143.2" rx="6.0" ry="7.4"/>
<ellipse cx="1182.2" cy="153.8" rx="6.0" ry="7.4"/>
<ellipse cx="1199.1" cy="157.9" rx="6.0" ry="7.4"/>
<ellipse cx="1216.0" cy="179.7" rx="6.0" ry="7.4"/>
<ellipse cx="1232.9" cy="195.4" rx="6.0" ry="7.4"/>
<ellipse cx="1249.8" cy="214.8" rx="6.0" ry="7.4"/>
<ellipse cx="1266.7" cy="312.5" rx="6.0" ry="7.4"/>
<ellipse cx="1283.6" cy="331.2" rx="6.0" ry="7.4"/>
<ellipse cx="1300.4" cy="369.2" rx="6.0" ry="7.4"/>
<ellipse cx="1317.3" cy="385.6" rx="6.0" ry="7.4"/>
<ellipse cx="1334.2" cy="400.7" rx="6.0" ry="7.4"/>
<ellipse cx="1351.1" cy="418.9" rx="6.0" ry="7.4"/>
<ellipse cx="1368.0" cy="432.9" rx="6.0" ry="7.4"/>
<ellipse cx="1384.9" cy="451.5" rx="6.0" ry="7.4"/>
<ellipse cx="1401.8" cy="466.6" rx="6.0" ry="7.4"/>
<ellipse cx="1418.7" cy="481.2" rx="6.0" ry="7.4"/>
<ellipse cx="1435.6" cy="499.2" rx="6.0" ry="7.4"/>
<ellipse cx="1452.5" cy="511.6" rx="6.0" ry="7.4"/>
<ellipse cx="1469.3" cy="521.7" rx="6.0" ry="7.4"/>
<ellipse cx="1486.2" cy="528.0" rx="6.0" ry="7.4"/>
<ellipse cx="1503.1" cy="535.2" rx="6.0" ry="7.4"/>
<ellipse cx="1520.0" cy="543.1" rx="6.0" ry="7.4"/>
<ellipse cx="1536.9" cy="547.1" rx="6.0" ry="7.4"/>
<ellipse cx="1553.8" cy="551.0" rx="6.0" ry="7.4"/>
<ellipse cx="1570.7" cy="553.2" rx="6.0" ry="7.4"/>
<ellipse cx="1587.6" cy="554.8" rx="6.0" ry="7.4"/>
<ellipse cx="1604.5" cy="555.5" rx="6.0" ry="7.4"/>
<ellipse cx="1621.3" cy="555.9" rx="6.0" ry="7.4"/>
<ellipse cx="1638.2" cy="556.1" rx="6.0" ry="7.4"/>
</g>
<line x1="1658.1" y1="97.9" x2="1691.8" y2="97.9" stroke="#000000" stroke-width="1.35"/>
<ellipse cx="1675" cy="97.9" rx="5.8" ry="7.4" fill="#000000"/>
<text transform="translate(1708,108.4) scale(0.76,1)" font-family='"Liberation Serif", "Times New Roman", serif' font-size="32" font-weight="bold" text-anchor="start" fill="#000" >S1</text>
<line x1="1658.1" y1="141.1" x2="1691.8" y2="141.1" stroke="#ff0000" stroke-width="1.35"/>
<ellipse cx="1675" cy="141.1" rx="5.8" ry="7.4" fill="#ff0000"/>
<text transform="translate(1708,151.6) scale(0.76,1)" font-family='"Liberation Serif", "Times New Roman", serif' font-size="32" font-weight="bold" text-anchor="start" fill="#000" >S2</text>
<line x1="1658.1" y1="183.8" x2="1691.8" y2="183.8" stroke="#00bb00" stroke-width="1.35"/>
<ellipse cx="1675" cy="183.8" rx="5.8" ry="7.4" fill="#00bb00"/>
<text transform="translate(1708,194.3) scale(0.76,1)" font-family='"Liberation Serif", "Times New Roman", serif' font-size="32" font-weight="bold" text-anchor="start" fill="#000" >S3</text>
<line x1="1658.1" y1="226.8" x2="1691.8" y2="226.8" stroke="#0000ff" stroke-width="1.35"/>
<ellipse cx="1675" cy="226.8" rx="5.8" ry="7.4" fill="#0000ff"/>
<text transform="translate(1708,237.3) scale(0.76,1)" font-family='"Liberation Serif", "Times New Roman", serif' font-size="32" font-weight="bold" text-anchor="start" fill="#000" >S4</text>
</g>
<g id="panelC">
<g stroke="#000" fill="none" stroke-width="4.8" stroke-linejoin="round">
<rect x="505.8" y="773.6" width="1053.2" height="566.4"/>
</g>
<g stroke="#000" stroke-width="4.6" stroke-linecap="round">
<line x1="492.5" y1="1340.0" x2="505.8" y2="1340.0"/>
<line x1="492.5" y1="1226.7" x2="505.8" y2="1226.7"/>
<line x1="492.5" y1="1113.4" x2="505.8" y2="1113.4"/>
<line x1="492.5" y1="1000.1" x2="505.8" y2="1000.1"/>
<line x1="492.5" y1="886.8" x2="505.8" y2="886.8"/>
<line x1="492.5" y1="773.5" x2="505.8" y2="773.5"/>
<line x1="603.6" y1="1340" x2="603.6" y2="1353.5"/>
<line x1="735.3" y1="1340" x2="735.3" y2="1353.5"/>
<line x1="867.1" y1="1340" x2="867.1" y2="1353.5"/>
<line x1="998.8" y1="1340" x2="998.8" y2="1353.5"/>
<line x1="1130.6" y1="1340" x2="1130.6" y2="1353.5"/>
<line x1="1262.3" y1="1340" x2="1262.3" y2="1353.5"/>
<line x1="1394.1" y1="1340" x2="1394.1" y2="1353.5"/>
<line x1="1525.8" y1="1340" x2="1525.8" y2="1353.5"/>
</g>
<text x="360.8" y="1237.9" font-family='"Liberation Sans", Arial, sans-serif' font-size="33" font-weight="bold" letter-spacing="1.75">2.0</text>
<text x="409.1" y="1240.9" font-family='"Liberation Sans", Arial, sans-serif' font-size="33">×</text>
<text x="425.7" y="1237.9" font-family='"Liberation Sans", Arial, sans-serif' font-size="33" font-weight="bold">10</text>
<text x="465.2" y="1225.9" font-family='"Liberation Sans", Arial, sans-serif' font-size="22.5">0</text>
<text x="360.8" y="1124.6" font-family='"Liberation Sans", Arial, sans-serif' font-size="33" font-weight="bold" letter-spacing="1.75">4.0</text>
<text x="409.1" y="1127.6" font-family='"Liberation Sans", Arial, sans-serif' font-size="33">×</text>
<text x="425.7" y="1124.6" font-family='"Liberation Sans", Arial, sans-serif' font-size="33" font-weight="bold">10</text>
<text x="465.2" y="1112.6" font-family='"Liberation Sans", Arial, sans-serif' font-size="22.5">0</text>
<text x="360.8" y="1011.3" font-family='"Liberation Sans", Arial, sans-serif' font-size="33" font-weight="bold" letter-spacing="1.75">6.0</text>
<text x="409.1" y="1014.3" font-family='"Liberation Sans", Arial, sans-serif' font-size="33">×</text>
<text x="425.7" y="1011.3" font-family='"Liberation Sans", Arial, sans-serif' font-size="33" font-weight="bold">10</text>
<text x="465.2" y="999.3" font-family='"Liberation Sans", Arial, sans-serif' font-size="22.5">0</text>
<text x="360.8" y="898.0" font-family='"Liberation Sans", Arial, sans-serif' font-size="33" font-weight="bold" letter-spacing="1.75">8.0</text>
<text x="409.1" y="901.0" font-family='"Liberation Sans", Arial, sans-serif' font-size="33">×</text>
<text x="425.7" y="898.0" font-family='"Liberation Sans", Arial, sans-serif' font-size="33" font-weight="bold">10</text>
<text x="465.2" y="886.0" font-family='"Liberation Sans", Arial, sans-serif' font-size="22.5">0</text>
<text x="360.8" y="784.7" font-family='"Liberation Sans", Arial, sans-serif' font-size="33" font-weight="bold" letter-spacing="1.75">1.0</text>
<text x="409.1" y="787.7" font-family='"Liberation Sans", Arial, sans-serif' font-size="33">×</text>
<text x="425.7" y="784.7" font-family='"Liberation Sans", Arial, sans-serif' font-size="33" font-weight="bold">10</text>
<text x="465.2" y="772.7" font-family='"Liberation Sans", Arial, sans-serif' font-size="22.5">1</text>
<text x="465.2" y="1351.2" font-family='"Liberation Sans", Arial, sans-serif' font-size="33" font-weight="bold">0</text>
<text x="583.8" y="1398.4" font-family='"Liberation Sans", Arial, sans-serif' font-size="33.4" font-weight="bold" textLength="21" lengthAdjust="spacingAndGlyphs">2</text>
<text x="715.5" y="1398.4" font-family='"Liberation Sans", Arial, sans-serif' font-size="33.4" font-weight="bold" textLength="21" lengthAdjust="spacingAndGlyphs">6</text>
<text x="827.8" y="1398.4" font-family='"Liberation Sans", Arial, sans-serif' font-size="33.4" font-weight="bold" textLength="40.5" lengthAdjust="spacingAndGlyphs">10</text>
<text x="959.5" y="1398.4" font-family='"Liberation Sans", Arial, sans-serif' font-size="33.4" font-weight="bold" textLength="40.5" lengthAdjust="spacingAndGlyphs">14</text>
<text x="1091.3" y="1398.4" font-family='"Liberation Sans", Arial, sans-serif' font-size="33.4" font-weight="bold" textLength="40.5" lengthAdjust="spacingAndGlyphs">18</text>
<text x="1223.0" y="1398.4" font-family='"Liberation Sans", Arial, sans-serif' font-size="33.4" font-weight="bold" textLength="40.5" lengthAdjust="spacingAndGlyphs">22</text>
<text x="1354.8" y="1398.4" font-family='"Liberation Sans", Arial, sans-serif' font-size="33.4" font-weight="bold" textLength="40.5" lengthAdjust="spacingAndGlyphs">26</text>
<text x="1486.5" y="1398.4" font-family='"Liberation Sans", Arial, sans-serif' font-size="33.4" font-weight="bold" textLength="40.5" lengthAdjust="spacingAndGlyphs">30</text>
<text x="922.9" y="1441.4" font-family='"Liberation Serif", "Times New Roman", serif' font-size="36" font-weight="bold" textLength="203.7" lengthAdjust="spacing">Time (days)</text>
<text transform="translate(317.3,1309) rotate(-90)" font-family='"Liberation Serif", "Times New Roman", serif' font-size="40" font-weight="bold" letter-spacing="0.1">Log<tspan font-size="29" dy="9" letter-spacing="2">10</tspan><tspan dy="-9" dx="4">biofilm cells (CFU/cm</tspan><tspan font-size="27" dy="-14">2</tspan><tspan dy="14">)</tspan></text>
<text transform="translate(969.5,721.6) scale(1.0,1)" font-family='"Liberation Serif", "Times New Roman", serif' font-size="42" font-weight="bold" text-anchor="middle" fill="#000" >(c)</text>
<text x="526" y="822.8" font-family='"Liberation Serif", "Times New Roman", serif' font-size="29" font-weight="bold" fill="#000080" textLength="266" lengthAdjust="spacingAndGlyphs">Monolayer biofilm</text>
<text x="899.2" y="825.1" font-family='"Liberation Serif", "Times New Roman", serif' font-size="29" font-weight="bold" fill="#000080" textLength="263.3" lengthAdjust="spacingAndGlyphs">Multilayer biofilm</text>
<text x="1296.1" y="822.9" font-family='"Liberation Serif", "Times New Roman", serif' font-size="29" font-weight="bold" fill="#000080" textLength="217" lengthAdjust="spacingAndGlyphs">Mature biofilm</text>
<g stroke="#990000" stroke-width="4.6" stroke-linecap="round" fill="none">
<line x1="819.5" y1="787" x2="847" y2="787"/>
<line x1="833" y1="789" x2="833" y2="1243" stroke-dasharray="12.4 10 3.2 10"/>
<line x1="819.5" y1="1244.2" x2="847" y2="1244.2" stroke-width="4"/>
<line x1="1271.5" y1="785.4" x2="1298.5" y2="785.4"/>
<line x1="1285" y1="787.4" x2="1285" y2="1241" stroke-dasharray="12.4 10 3.2 10"/>
<line x1="1271.5" y1="1242" x2="1299" y2="1242" stroke-width="4"/>
</g>
<polyline points="537.7,1262.1 603.6,1234 669.5,1216 735.3,1208.8 801.2,1199.8 867.1,1181.8 933.0,1148.4 998.8,1122.5 1064.7,1103.4 1130.6,1094.2 1196.5,1061.8 1262.3,1047.2 1328.2,1020.8 1394.1,963 1459.9,965.3 1525.8,963.5" fill="none" stroke="#800080" stroke-width="3.8" stroke-linejoin="round"/>
<g stroke="#000" stroke-width="2.4" fill="none">
<path d="M856.7 1172.8H877.5M856.7 1191.7H877.5M867.1 1172.8V1191.7"/>
</g>
<circle cx="537.7" cy="1262.1" r="9.4" fill="#800080"/>
<circle cx="603.6" cy="1234" r="9.4" fill="#800080"/>
<circle cx="669.5" cy="1216" r="9.4" fill="#800080"/>
<circle cx="735.3" cy="1208.8" r="9.4" fill="#800080"/>
<circle cx="801.2" cy="1199.8" r="9.4" fill="#800080"/>
<circle cx="867.1" cy="1181.8" r="9.4" fill="#800080"/>
<circle cx="933.0" cy="1148.4" r="9.4" fill="#800080"/>
<circle cx="998.8" cy="1122.5" r="9.4" fill="#800080"/>
<circle cx="1064.7" cy="1103.4" r="9.4" fill="#800080"/>
<circle cx="1130.6" cy="1094.2" r="9.4" fill="#800080"/>
<circle cx="1196.5" cy="1061.8" r="9.4" fill="#800080"/>
<circle cx="1262.3" cy="1047.2" r="9.4" fill="#800080"/>
<circle cx="1328.2" cy="1020.8" r="9.4" fill="#800080"/>
<circle cx="1394.1" cy="963" r="9.4" fill="#800080"/>
<circle cx="1459.9" cy="965.3" r="9.4" fill="#800080"/>
<circle cx="1525.8" cy="963.5" r="9.4" fill="#800080"/>
<polyline points="537.7,1238.9 603.6,1208.1 669.5,1197.5 735.3,1177.7 801.2,1160.2 867.1,1140.2 933.0,1128.6 998.8,1098.7 1064.7,1067.2 1130.6,1042 1196.5,1022.7 1262.3,1014.1 1328.2,960.8 1394.1,919.2 1459.9,922.5 1525.8,920.3" fill="none" stroke="#0000ff" stroke-width="3.8" stroke-linejoin="round"/>
<g stroke="#000" stroke-width="2.4" fill="none">
<path d="M593.2 1198H614.0M593.2 1217H614.0M603.6 1198V1217"/>
<path d="M659.1 1187.9H679.9M659.1 1206.5H679.9M669.5 1187.9V1206.5"/>
<path d="M856.7 1129H877.5M856.7 1151.1H877.5M867.1 1129V1151.1"/>
<path d="M988.4 1089.7H1009.2M988.4 1108.3H1009.2M998.8 1089.7V1108.3"/>
<path d="M1054.3 1058.2H1075.1M1054.3 1076.9H1075.1M1064.7 1058.2V1076.9"/>
<path d="M1120.2 1029.2H1141.0M1120.2 1054.4H1141.0M1130.6 1029.2V1054.4"/>
<path d="M1186.0 1013.5H1206.9M1186.0 1032.9H1206.9M1196.5 1013.5V1032.9"/>
<path d="M1251.9 1001.7H1272.7M1251.9 1026.5H1272.7M1262.3 1001.7V1026.5"/>
<path d="M1383.7 907.9H1404.5M1383.7 928.6H1404.5M1394.1 907.9V928.6"/>
<path d="M1449.5 911.3H1470.3M1449.5 933.6H1470.3M1459.9 911.3V933.6"/>
<path d="M1515.4 905.7H1536.2M1515.4 933.6H1536.2M1525.8 905.7V933.6"/>
</g>
<rect x="528.2" y="1229.6" width="19" height="18.6" fill="#0000ff"/>
<rect x="594.1" y="1198.8" width="19" height="18.6" fill="#0000ff"/>
<rect x="660.0" y="1188.2" width="19" height="18.6" fill="#0000ff"/>
<rect x="725.8" y="1168.4" width="19" height="18.6" fill="#0000ff"/>
<rect x="791.7" y="1150.9" width="19" height="18.6" fill="#0000ff"/>
<rect x="857.6" y="1130.9" width="19" height="18.6" fill="#0000ff"/>
<rect x="923.5" y="1119.3" width="19" height="18.6" fill="#0000ff"/>
<rect x="989.3" y="1089.4" width="19" height="18.6" fill="#0000ff"/>
<rect x="1055.2" y="1057.9" width="19" height="18.6" fill="#0000ff"/>
<rect x="1121.1" y="1032.7" width="19" height="18.6" fill="#0000ff"/>
<rect x="1187.0" y="1013.4" width="19" height="18.6" fill="#0000ff"/>
<rect x="1252.8" y="1004.8" width="19" height="18.6" fill="#0000ff"/>
<rect x="1318.7" y="951.5" width="19" height="18.6" fill="#0000ff"/>
<rect x="1384.6" y="909.9" width="19" height="18.6" fill="#0000ff"/>
<rect x="1450.4" y="913.2" width="19" height="18.6" fill="#0000ff"/>
<rect x="1516.3" y="911.0" width="19" height="18.6" fill="#0000ff"/>
<polyline points="537.7,1198 603.6,1155.2 669.5,1130.5 735.3,1078.7 801.2,1033.3 867.1,1009.2 933.0,986.2 998.8,968.9 1064.7,956.5 1130.6,930.6 1196.5,892.5 1262.3,862.2 1328.2,856.6 1394.1,846.5 1459.9,847.2 1525.8,846.5" fill="none" stroke="#ff0000" stroke-width="3.8" stroke-linejoin="round"/>
<g stroke="#000" stroke-width="2.4" fill="none">
<path d="M527.3 1184.5H548.1M527.3 1209.7H548.1M537.7 1184.5V1209.7"/>
<path d="M593.2 1136.8H614.0M593.2 1173.2H614.0M603.6 1136.8V1173.2"/>
<path d="M659.1 1115.9H679.9M659.1 1144H679.9M669.5 1115.9V1144"/>
<path d="M724.9 1065.9H745.7M724.9 1091.1H745.7M735.3 1065.9V1091.1"/>
<path d="M790.8 1018.4H811.6M790.8 1046.1H811.6M801.2 1018.4V1046.1"/>
<path d="M856.7 997.4H877.5M856.7 1020.6H877.5M867.1 997.4V1020.6"/>
<path d="M922.6 971.8H943.4M922.6 1000.4H943.4M933.0 971.8V1000.4"/>
<path d="M988.4 955.8H1009.2M988.4 978.5H1009.2M998.8 955.8V978.5"/>
<path d="M1054.3 943.4H1075.1M1054.3 967.7H1075.1M1064.7 943.4V967.7"/>
<path d="M1120.2 918.9H1141.0M1120.2 941.2H1141.0M1130.6 918.9V941.2"/>
<path d="M1186.0 879.1H1206.9M1186.0 906.1H1206.9M1196.5 879.1V906.1"/>
<path d="M1251.9 848.7H1272.7M1251.9 875.7H1272.7M1262.3 848.7V875.7"/>
<path d="M1317.8 837.5H1338.6M1317.8 873.9H1338.6M1328.2 837.5V873.9"/>
<path d="M1383.7 831.2H1404.5M1383.7 862.2H1404.5M1394.1 831.2V862.2"/>
<path d="M1449.5 836.4H1470.3M1449.5 858.9H1470.3M1459.9 836.4V858.9"/>
<path d="M1515.4 833H1536.2M1515.4 858.9H1536.2M1525.8 833V858.9"/>
</g>
<polygon points="527.8,1206.7 547.6,1206.7 537.7,1189.3" fill="#ff0000"/>
<polygon points="593.7,1163.9 613.5,1163.9 603.6,1146.5" fill="#ff0000"/>
<polygon points="659.6,1139.2 679.4,1139.2 669.5,1121.8" fill="#ff0000"/>
<polygon points="725.4,1087.4 745.2,1087.4 735.3,1070.0" fill="#ff0000"/>
<polygon points="791.3,1042.0 811.1,1042.0 801.2,1024.6" fill="#ff0000"/>
<polygon points="857.2,1017.9 877.0,1017.9 867.1,1000.5" fill="#ff0000"/>
<polygon points="923.1,994.9 942.9,994.9 933.0,977.5" fill="#ff0000"/>
<polygon points="988.9,977.6 1008.7,977.6 998.8,960.2" fill="#ff0000"/>
<polygon points="1054.8,965.2 1074.6,965.2 1064.7,947.8" fill="#ff0000"/>
<polygon points="1120.7,939.3 1140.5,939.3 1130.6,921.9" fill="#ff0000"/>
<polygon points="1186.5,901.2 1206.4,901.2 1196.5,883.8" fill="#ff0000"/>
<polygon points="1252.4,870.9 1272.2,870.9 1262.3,853.5" fill="#ff0000"/>
<polygon points="1318.3,865.3 1338.1,865.3 1328.2,847.9" fill="#ff0000"/>
<polygon points="1384.2,855.2 1404.0,855.2 1394.1,837.8" fill="#ff0000"/>
<polygon points="1450.0,855.9 1469.8,855.9 1459.9,838.5" fill="#ff0000"/>
<polygon points="1515.9,855.2 1535.7,855.2 1525.8,837.8" fill="#ff0000"/>
<polyline points="537.7,1221.6 603.6,1201.3 669.5,1165.4 735.3,1141.7 801.2,1076.5 867.1,1043.5 933.0,1029.6 998.8,1015 1064.7,982.4 1130.6,958.7 1196.5,925.1 1262.3,902.7 1328.2,891.5 1394.1,874.6 1459.9,873.5 1525.8,874.6" fill="none" stroke="#00ff00" stroke-width="3.8" stroke-linejoin="round"/>
<g stroke="#000" stroke-width="2.4" fill="none">
<path d="M593.2 1191.2H614.0M593.2 1217H614.0M603.6 1191.2V1217"/>
<path d="M659.1 1154.8H679.9M659.1 1179.3H679.9M669.5 1154.8V1179.3"/>
<path d="M724.9 1130.5H745.7M724.9 1154.6H745.7M735.3 1130.5V1154.6"/>
<path d="M790.8 1064.1H811.6M790.8 1091.1H811.6M801.2 1064.1V1091.1"/>
<path d="M856.7 1031.7H877.5M856.7 1057.8H877.5M867.1 1031.7V1057.8"/>
<path d="M922.6 1017.2H943.4M922.6 1046H943.4M933.0 1017.2V1046"/>
<path d="M988.4 1002.2H1009.2M988.4 1032.3H1009.2M998.8 1002.2V1032.3"/>
<path d="M1054.3 971.1H1075.1M1054.3 997.7H1075.1M1064.7 971.1V997.7"/>
<path d="M1120.2 941.9H1141.0M1120.2 978.5H1141.0M1130.6 941.9V978.5"/>
<path d="M1186.0 907.6H1206.9M1186.0 945H1206.9M1196.5 907.6V945"/>
<path d="M1251.9 888.6H1272.7M1251.9 917.4H1272.7M1262.3 888.6V917.4"/>
<path d="M1317.8 873.9H1338.6M1317.8 909.9H1338.6M1328.2 873.9V909.9"/>
<path d="M1383.7 863.4H1404.5M1383.7 886.3H1404.5M1394.1 863.4V886.3"/>
<path d="M1449.5 861.1H1470.3M1449.5 887H1470.3M1459.9 861.1V887"/>
<path d="M1515.4 862.2H1536.2M1515.4 886.3H1536.2M1525.8 862.2V886.3"/>
</g>
<polygon points="527.8,1212.9 547.6,1212.9 537.7,1230.3" fill="#00ff00"/>
<polygon points="593.7,1192.6 613.5,1192.6 603.6,1210.0" fill="#00ff00"/>
<polygon points="659.6,1156.7 679.4,1156.7 669.5,1174.1" fill="#00ff00"/>
<polygon points="725.4,1133.0 745.2,1133.0 735.3,1150.4" fill="#00ff00"/>
<polygon points="791.3,1067.8 811.1,1067.8 801.2,1085.2" fill="#00ff00"/>
<polygon points="857.2,1034.8 877.0,1034.8 867.1,1052.2" fill="#00ff00"/>
<polygon points="923.1,1020.9 942.9,1020.9 933.0,1038.3" fill="#00ff00"/>
<polygon points="988.9,1006.3 1008.7,1006.3 998.8,1023.7" fill="#00ff00"/>
<polygon points="1054.8,973.7 1074.6,973.7 1064.7,991.1" fill="#00ff00"/>
<polygon points="1120.7,950.0 1140.5,950.0 1130.6,967.4" fill="#00ff00"/>
<polygon points="1186.5,916.4 1206.4,916.4 1196.5,933.8" fill="#00ff00"/>
<polygon points="1252.4,894.0 1272.2,894.0 1262.3,911.4" fill="#00ff00"/>
<polygon points="1318.3,882.8 1338.1,882.8 1328.2,900.2" fill="#00ff00"/>
<polygon points="1384.2,865.9 1404.0,865.9 1394.1,883.3" fill="#00ff00"/>
<polygon points="1450.0,864.8 1469.8,864.8 1459.9,882.2" fill="#00ff00"/>
<polygon points="1515.9,865.9 1535.7,865.9 1525.8,883.3" fill="#00ff00"/>
<line x1="530" y1="879.5" x2="583" y2="879.5" stroke="#800080" stroke-width="3.8"/>
<circle cx="556.9" cy="879.5" r="9.4" fill="#800080"/>
<text x="611.7" y="890.3" font-family='"Liberation Serif", "Times New Roman", serif' font-size="34" fill="#000">S1</text>
<line x1="530" y1="931.2" x2="583" y2="931.2" stroke="#0000ff" stroke-width="3.8"/>
<rect x="547.4" y="921.9" width="19" height="18.6" fill="#0000ff"/>
<text x="611.7" y="942.0" font-family='"Liberation Serif", "Times New Roman", serif' font-size="34" fill="#000">S2</text>
<line x1="530" y1="983" x2="583" y2="983" stroke="#ff0000" stroke-width="3.8"/>
<polygon points="547.0,991.7 566.8,991.7 556.9,974.3" fill="#ff0000"/>
<text x="611.7" y="993.8" font-family='"Liberation Serif", "Times New Roman", serif' font-size="34" fill="#000">S3</text>
<line x1="530" y1="1034.7" x2="583" y2="1034.7" stroke="#00ff00" stroke-width="3.8"/>
<polygon points="547.0,1026.0 566.8,1026.0 556.9,1043.4" fill="#00ff00"/>
<text x="611.7" y="1045.5" font-family='"Liberation Serif", "Times New Roman", serif' font-size="34" fill="#000">S4</text>
</g>
</svg>
</body></html>
